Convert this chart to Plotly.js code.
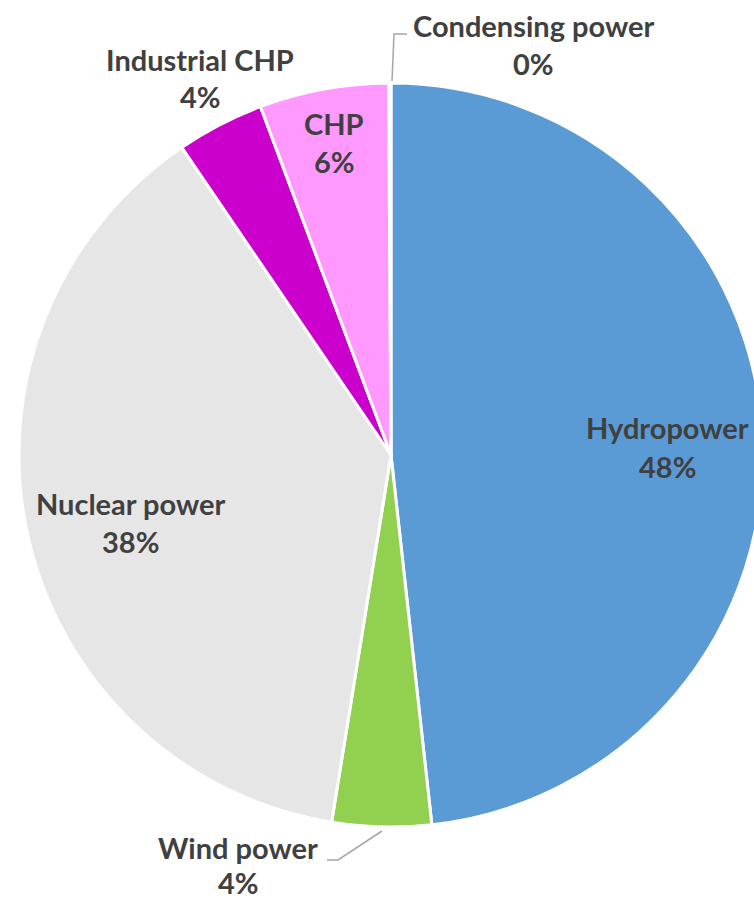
<!DOCTYPE html>
<html>
<head>
<meta charset="utf-8">
<script src="https://cdn.plot.ly/plotly-3.0.1.min.js"></script>
<style>
html, body { margin: 0; padding: 0; overflow: hidden; background: #fff; width: 754px; height: 900px; }
#chart { width: 782px; height: 900px; }
</style>
</head>
<body>
<div id="chart"></div>
<script>
// Data
const categories = ["Hydropower", "Wind power", "Nuclear power", "Industrial CHP", "CHP", "Condensing power"];
const values = [48.2, 4.3, 37.9, 3.8, 5.6, 0.1];
const colors = ["#5B9BD5", "#92D050", "#E7E6E6", "#CC00CC", "#FF99FF", "#A5A5A5"];

// Label placement (pixel centres in the 782x900 plot area)
const W = 782, H = 900;
const labelPos = [
  [667, 428], // Hydropower
  [238, 847], // Wind power
  [130, 503], // Nuclear power
  [200, 59],  // Industrial CHP
  [334, 123], // CHP
  [533, 25]   // Condensing power
];
const lineGaps = [38, 35, 38, 38, 38, 38];

const total = values.reduce((a, b) => a + b, 0);
const pct = values.map(v => Math.round(v / total * 100) + "%");

const textColor = "#404040";
const font = { family: "Lato, 'Open Sans', sans-serif", size: 29, color: textColor, weight: 700 };

const annotations = [];
categories.forEach((c, i) => {
  const [px, py] = labelPos[i];
  annotations.push({
    x: px / W, y: 1 - py / H, xref: "paper", yref: "paper",
    text: "<b>" + c + "</b>", showarrow: false, font: font,
    xanchor: "center", yanchor: "middle", borderpad: 0
  });
  annotations.push({
    x: px / W, y: 1 - (py + lineGaps[i]) / H, xref: "paper", yref: "paper",
    text: "<b>" + pct[i] + "</b>", showarrow: false, font: font,
    xanchor: "center", yanchor: "middle", borderpad: 0
  });
});

const P = (px, py) => (px / W) + "," + (1 - py / H);
const shapes = [
  { type: "path", xref: "paper", yref: "paper",
    path: "M" + P(392, 81) + " L" + P(394, 34) + " L" + P(407, 34),
    line: { color: "#A6A6A6", width: 1.5 } },
  { type: "path", xref: "paper", yref: "paper",
    path: "M" + P(382, 831) + " L" + P(338, 860) + " L" + P(327, 860),
    line: { color: "#A6A6A6", width: 1.5 } }
];

const trace = {
  type: "pie",
  labels: categories,
  values: values,
  sort: false,
  direction: "clockwise",
  rotation: 0,
  textinfo: "none",
  hoverinfo: "label+percent",
  marker: { colors: colors, line: { color: "#FFFFFF", width: 3 } },
  domain: { x: [0, 1], y: [1 - 827 / H, 1 - 83 / H] }
};

const layout = {
  width: W, height: H,
  margin: { l: 0, r: 0, t: 0, b: 0, pad: 0 },
  showlegend: false,
  paper_bgcolor: "#FFFFFF",
  annotations: annotations,
  shapes: shapes
};

Plotly.newPlot("chart", [trace], layout, { displayModeBar: false, staticPlot: true });
</script>
</body>
</html>
